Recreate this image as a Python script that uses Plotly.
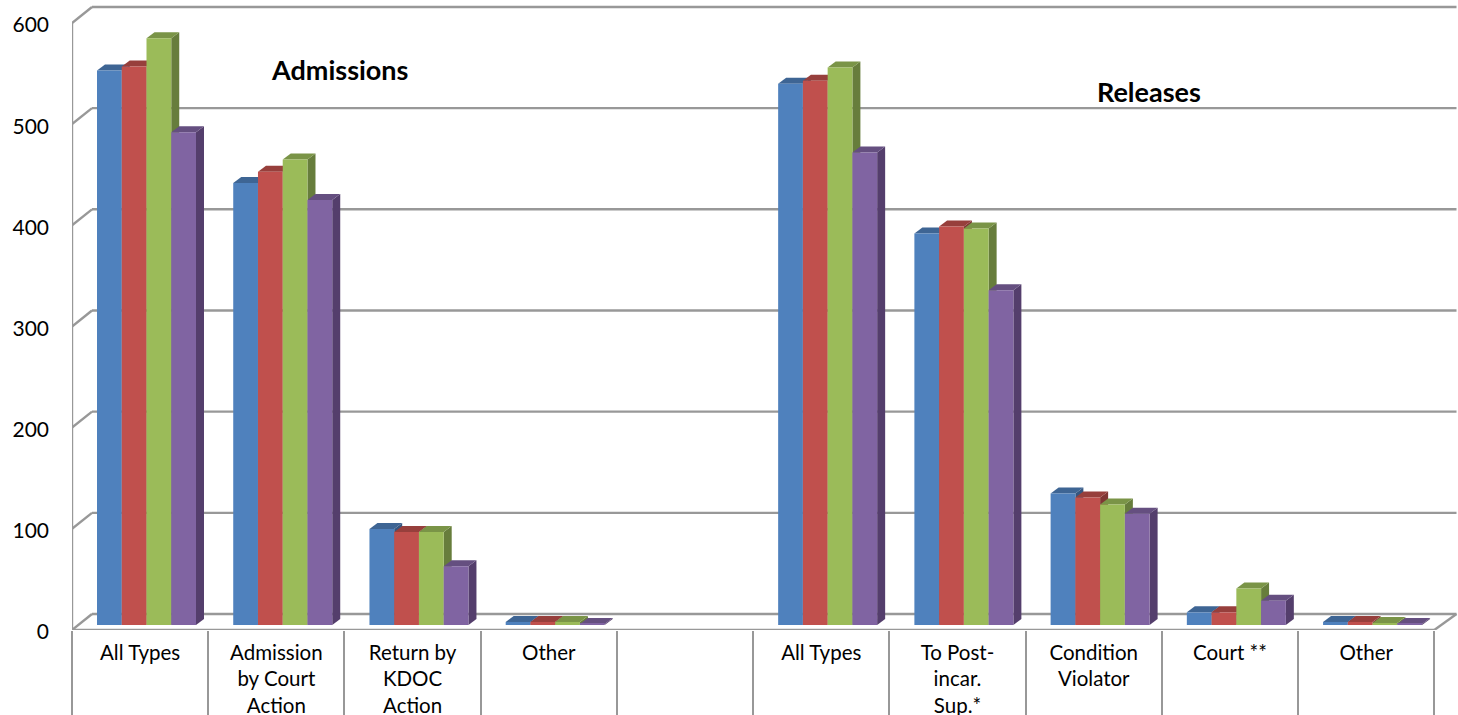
import plotly.graph_objects as go

categories = ["All Types", "Admission<br>by Court<br>Action", "Return by<br>KDOC<br>Action", "Other", "",
              "All Types", "To Post-<br>incar.<br>Sup.*", "Condition<br>Violator", "Court **", "Other"]
series_a = [548, 437, 95, 3, None, 535, 387, 130, 12.5, 3]
series_b = [552, 448, 92, 3, None, 538, 394, 126, 12.5, 3]
series_c = [580, 460, 92, 3, None, 551, 392, 119, 36, 2]
series_d = [487, 420, 58, 1, None, 467, 331, 110, 24, 1]
y_ticks = [0, 100, 200, 300, 400, 500, 600]

front_colors = ["#4F81BD", "#C0504D", "#9BBB59", "#8064A2"]
top_colors = ["#3E6594", "#973F3C", "#7A9447", "#654F80"]
side_colors = ["#355680", "#803634", "#677D3C", "#543E6C"]
GRID = "#989898"
FONT = "Lato"

W, H = 1458, 715
L, B = 72, 630
PX_X = 136.23   # px per category
PX_Y = 1.0117   # px per value unit
xu = lambda px: px / PX_X
yu = lambda px: px / PX_Y

all_series = [series_a, series_b, series_c, series_d]
bar_w = xu(24.75)
bar_start = xu(25)
base = yu(5)
depth_x, depth_y = xu(8), yu(6)
wall_x, wall_y = xu(20), yu(16)
x_max = xu(W - L)
x_end = xu(1456.5 - L)

shapes = []
def line(x0, y0, x1, y1):
    shapes.append(dict(type="line", xref="x", yref="y", x0=x0, y0=y0, x1=x1, y1=y1,
                       line=dict(color=GRID, width=2.4), layer="below"))

for t in y_ticks:
    line(wall_x, t + wall_y, x_end, t + wall_y)
    line(0, t, wall_x, t + wall_y)
line(0, 0, 0, 600)
line(0, 0, 10, 0)
line(10, 0, x_end, wall_y)

def poly(pts, color):
    path = "M " + " L ".join(f"{x:.5f},{y:.3f}" for x, y in pts) + " Z"
    shapes.append(dict(type="path", xref="x", yref="y", path=path, fillcolor=color,
                       line=dict(width=0), layer="below"))

for c in range(len(categories)):
    for s, vals in enumerate(all_series):
        v = vals[c]
        if v is None:
            continue
        x0 = c + bar_start + s * bar_w
        x1 = x0 + bar_w
        top = base + v
        poly([(x1, base), (x1 + depth_x, base + depth_y), (x1 + depth_x, top + depth_y), (x1, top)], side_colors[s])
        poly([(x0, top), (x1, top), (x1 + depth_x, top + depth_y), (x0 + depth_x, top + depth_y)], top_colors[s])

fig = go.Figure()
for s, vals in enumerate(all_series):
    fig.add_trace(go.Bar(
        x=[c + bar_start + (s + 0.5) * bar_w for c in range(len(categories))],
        y=vals, base=base, width=bar_w,
        marker=dict(color=front_colors[s], line=dict(width=0)),
        showlegend=False, hoverinfo="y"))

fig.update_layout(
    width=W, height=H, barmode="overlay",
    margin=dict(l=L, r=0, t=0, b=H - B, autoexpand=False),
    paper_bgcolor="white", plot_bgcolor="white",
    shapes=shapes,
    font=dict(family=FONT, color="black"),
    xaxis=dict(range=[0, x_max], showgrid=False, zeroline=False, showline=False, automargin=False,
               tickmode="array", tickvals=[c + 0.5 for c in range(len(categories))],
               ticktext=categories, ticks="", tickfont=dict(size=20.5, family=FONT),
               ticklabelstandoff=8,
               minor=dict(tickmode="array", tickvals=list(range(len(categories) + 1)),
                          ticks="outside", ticklen=90, tickwidth=2.4, tickcolor=GRID, showgrid=False)),
    yaxis=dict(range=[0, yu(B)], showgrid=False, zeroline=False, showline=False, automargin=False,
               tickmode="array", tickvals=y_ticks, ticks="",
               tickfont=dict(size=21, family=FONT), ticklabelstandoff=22, ticklabelshift=2),
    annotations=[
        dict(text="<b>Admissions</b>", x=xu(339.5 - L), y=yu(B - 69), xref="x", yref="y",
             showarrow=False, font=dict(size=27, family=FONT, color="black")),
        dict(text="<b>Releases</b>", x=xu(1149 - L), y=yu(B - 91), xref="x", yref="y",
             showarrow=False, font=dict(size=27, family=FONT, color="black")),
    ],
)
fig.write_html("out.html", config={"displayModeBar": False},
               post_script="document.body.style.margin='0';document.body.style.overflow='hidden';")
